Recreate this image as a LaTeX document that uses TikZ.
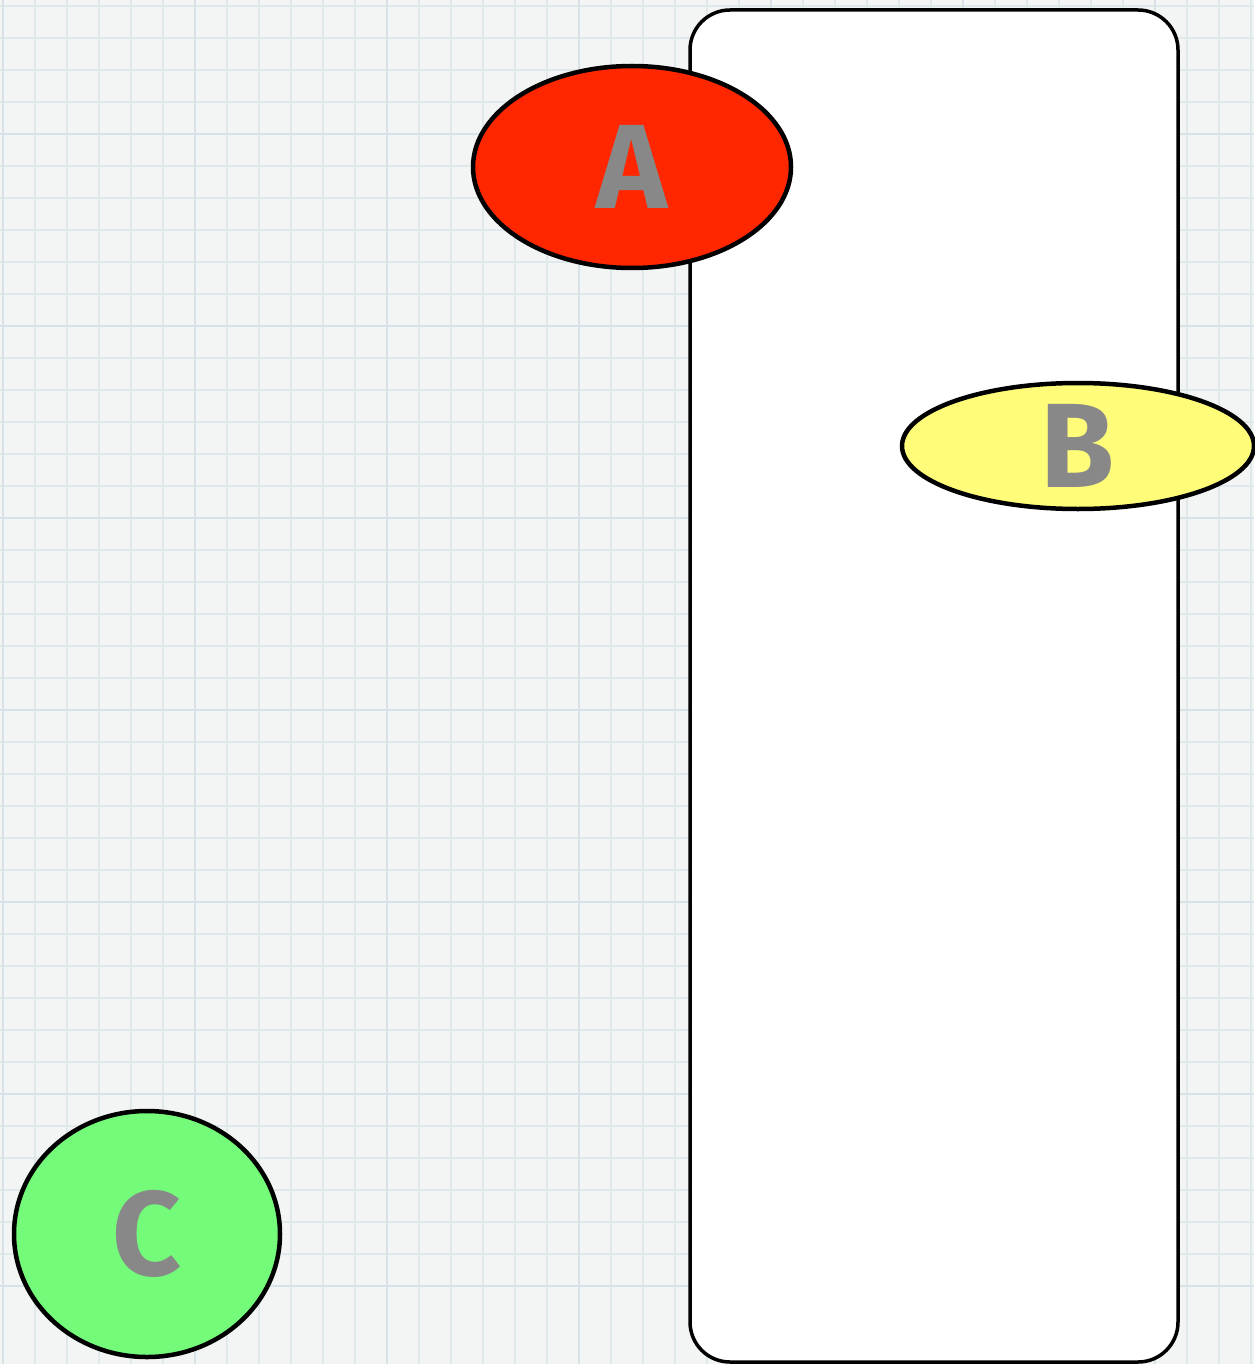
\documentclass[tikz,border=0pt]{standalone}
\usepackage{fontspec}
\setmainfont{Fira Sans}
\usetikzlibrary{shapes.geometric}
\definecolor{bgpaper}{HTML}{F3F4F4}
\definecolor{gridminor}{HTML}{DFE8EB}
\definecolor{gridmajor}{HTML}{D6E2E7}
\definecolor{fillA}{HTML}{FF2600}
\definecolor{fillB}{HTML}{FFFC79}
\definecolor{fillC}{HTML}{73FB79}
\definecolor{labelgray}{HTML}{888888}
\tikzset{
  blob/.style={ellipse, draw=black, line width=4.5pt, inner sep=0pt},
  lbl/.style={text=labelgray, font=\fontsize{120}{120}\selectfont\bfseries},
  panel/.style={draw=black, fill=white, line width=3.5pt, rounded corners=40pt}
}
\begin{document}
\begin{tikzpicture}[x=1pt,y=-1pt]
\useasboundingbox (0,0) rectangle (1254,1364);
\fill[bgpaper] (0,0) rectangle (1254,1364);
\foreach \k in {0,...,39} {
  \draw[gridminor, line width=2pt] ({3+32*\k},0) -- ({3+32*\k},1364);
  \draw[gridminor, line width=2pt] (0,{6+32*\k}) -- (1254,{6+32*\k});
}
\foreach \k in {0,...,6} {
  \draw[gridmajor, line width=2.5pt] ({3+192*\k},0) -- ({3+192*\k},1364);
  \draw[gridmajor, line width=2.5pt] (0,{134+192*\k}) -- (1254,{134+192*\k});
}
\node[panel, minimum width=488pt, minimum height=1352pt, inner sep=0pt] (panel) at (934,686) {};
\node[blob, fill=fillA, minimum width=318pt, minimum height=202pt] (A) at (632,167) {};
\node[lbl] at (A.center) {A};
\node[blob, fill=fillB, minimum width=352pt, minimum height=126pt] (B) at (1078,446) {};
\node[lbl] at (B.center) {B};
\node[blob, fill=fillC, minimum width=266pt, minimum height=246pt] (C) at (147,1234) {};
\node[lbl] at (C.center) {C};
\end{tikzpicture}
\end{document}
